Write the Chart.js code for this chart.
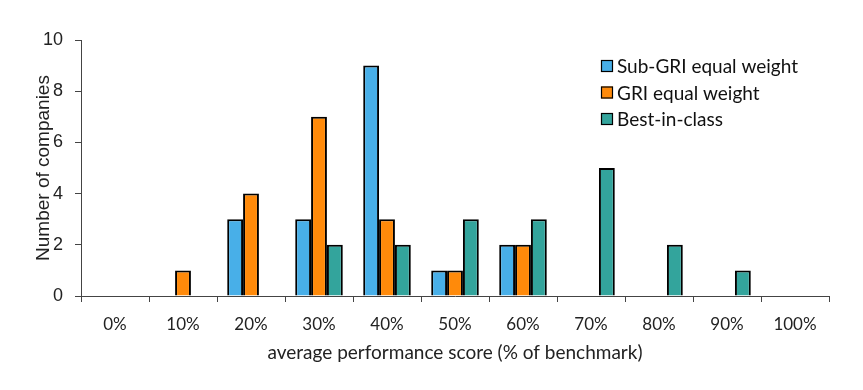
<!DOCTYPE html>
<html>
<head>
<meta charset="utf-8">
<script src="https://cdn.jsdelivr.net/npm/chart.js@4.4.1/dist/chart.umd.min.js"></script>
<style>
  html, body { margin: 0; padding: 0; background: #fff; }
  #wrap { width: 863px; height: 390px; }
</style>
</head>
<body>
<div id="wrap"><canvas id="c" width="863" height="390"></canvas></div>
<script>
// score buckets (% of benchmark)
const bins = ['0%', '10%', '20%', '30%', '40%', '50%', '60%', '70%', '80%', '90%', '100%'];
const subGri = [0, 0, 3, 3, 9, 1, 2, 0, 0, 0, 0];
const griEqual = [0, 1, 4, 7, 3, 1, 2, 0, 0, 0, 0];
const bestInClass = [0, 0, 0, 2, 2, 3, 3, 5, 2, 1, 0];
const yTicks = [0, 2, 4, 6, 8, 10];

// legend drawn inside the plot area, top right
const boxLegend = {
  id: 'boxLegend',
  afterDraw(chart) {
    const { ctx } = chart;
    ctx.save();
    ctx.font = '19px Lato, "Open Sans", sans-serif';
    ctx.textBaseline = 'middle';
    chart.data.datasets.forEach((ds, i) => {
      const x = 601, y = 66 + i * 26.5;
      ctx.fillStyle = ds.backgroundColor;
      ctx.fillRect(x, y - 6, 12, 12);
      ctx.strokeStyle = '#000';
      ctx.lineWidth = 1.2;
      ctx.strokeRect(x + 0.5, y - 5.5, 11, 11);
      ctx.fillStyle = '#111';
      ctx.fillText(ds.label, x + 16, y + 1);
    });
    ctx.restore();
  }
};

const barStyle = { borderColor: '#000', borderWidth: 2, barPercentage: 1, categoryPercentage: 0.7 };

new Chart(document.getElementById('c'), {
  type: 'bar',
  data: {
    labels: bins,
    datasets: [
      { label: 'Sub-GRI equal weight', data: subGri, backgroundColor: '#48AFE8', ...barStyle },
      { label: 'GRI equal weight', data: griEqual, backgroundColor: '#FF8A0A', ...barStyle },
      { label: 'Best-in-class', data: bestInClass, backgroundColor: '#33A49C', ...barStyle }
    ]
  },
  options: {
    responsive: false,
    animation: false,
    layout: { padding: { left: 32, right: 34, top: 40, bottom: 22 } },
    plugins: { legend: { display: false }, tooltip: { enabled: false } },
    scales: {
      x: {
        offset: true,
        afterFit: s => { s.height = 72; },
        grid: { display: true, offset: true, drawOnChartArea: false, color: '#444', tickLength: 6, tickColor: '#444' },
        border: { color: '#444', width: 1 },
        ticks: { color: '#222', padding: 12, font: { family: 'Lato, "Open Sans", sans-serif', size: 17 }, maxRotation: 0 },
        title: { display: true, text: 'average performance score (% of benchmark)', color: '#222',
                 font: { family: 'Lato, "Open Sans", sans-serif', size: 19 }, padding: { top: 4, bottom: 4 } }
      },
      y: {
        min: 0,
        max: 10,
        afterBuildTicks: s => { s.ticks = yTicks.map(v => ({ value: v })); },
        afterFit: s => { s.width = 49; },
        grid: { display: true, drawOnChartArea: false, color: '#444', tickLength: 6, tickColor: '#444' },
        border: { color: '#444', width: 1 },
        ticks: { color: '#222', padding: 12, font: { family: '"Liberation Sans", Arial, sans-serif', size: 18 } },
        title: { display: true, text: 'Number of companies', color: '#222',
                 font: { family: '"Liberation Sans", Arial, sans-serif', size: 19 }, padding: { top: 0, bottom: 0 } }
      }
    }
  },
  plugins: [boxLegend]
});
</script>
</body>
</html>
